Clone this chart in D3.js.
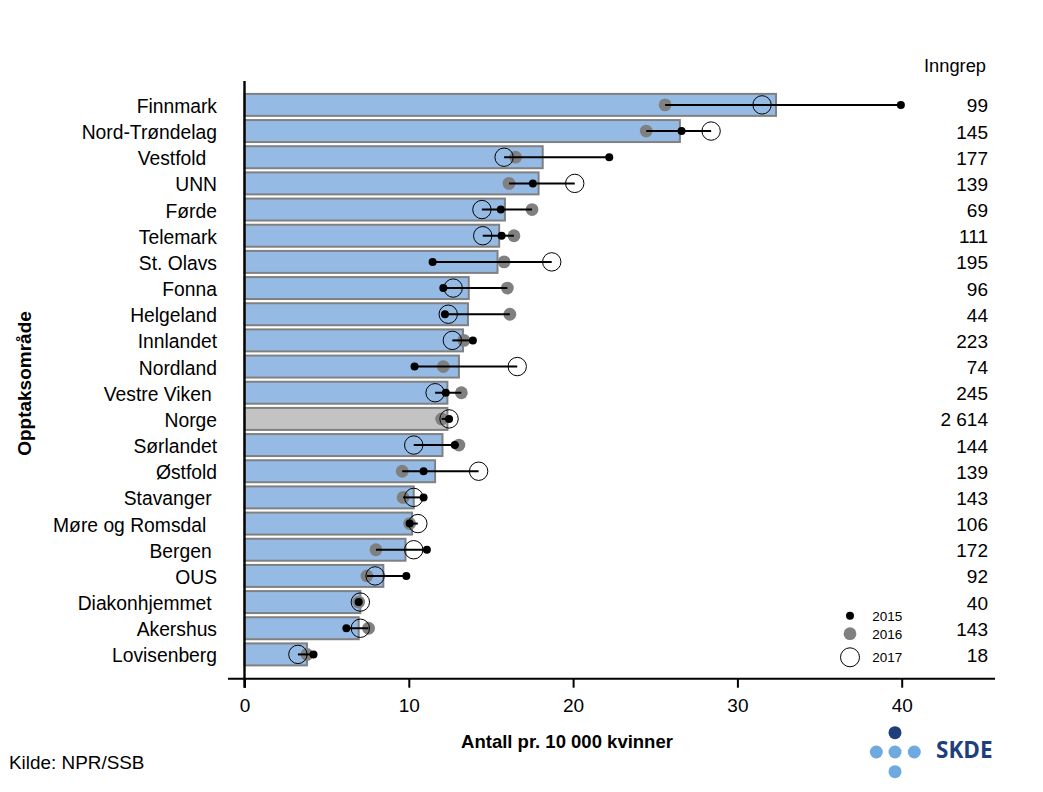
<!DOCTYPE html>
<html>
<head>
<meta charset="utf-8">
<script src="https://d3js.org/d3.v7.min.js"></script>
<style>
  body { margin: 0; background: #fff; }
  text { font-family: "Liberation Sans", Arial, sans-serif; fill: #000; white-space: pre; }
</style>
</head>
<body>
<div id="chart"></div>
<script>
// trailing spaces are in the original labels
var areas = ["Finnmark", "Nord-Trøndelag", "Vestfold  ", "UNN", "Førde", "Telemark", "St. Olavs", "Fonna", "Helgeland", "Innlandet", "Nordland", "Vestre Viken ", "Norge", "Sørlandet", "Østfold", "Stavanger ", "Møre og Romsdal  ", "Bergen ", "OUS", "Diakonhjemmet ", "Akershus", "Lovisenberg"];
var rateMean = [32.35, 26.5, 18.15, 17.9, 15.85, 15.5, 15.4, 13.65, 13.6, 13.3, 13.05, 12.35, 12.35, 12.05, 11.6, 10.3, 10.2, 9.8, 8.45, 7.05, 6.95, 3.8];
var rate2015 = [39.95, 26.6, 22.2, 17.55, 15.6, 15.65, 11.45, 12.1, 12.2, 13.9, 10.35, 12.25, 12.45, 12.8, 10.9, 10.9, 10.05, 11.1, 9.85, 6.95, 6.2, 4.2];
var rate2016 = [25.6, 24.45, 16.5, 16.1, 17.5, 16.4, 15.8, 16, 16.15, 13.35, 12.1, 13.2, 12, 13.05, 9.6, 9.65, 10.05, 8, 7.45, 6.95, 7.55, 3.8];
var rate2017 = [31.5, 28.4, 15.8, 20.1, 14.45, 14.5, 18.7, 12.7, 12.4, 12.65, 16.6, 11.6, 12.45, 10.3, 14.25, 10.3, 10.55, 10.3, 7.95, 7.05, 7.05, 3.25];
var inngrep = ["99", "145", "177", "139", "69", "111", "195", "96", "44", "223", "74", "245", "2 614", "144", "139", "143", "106", "172", "92", "40", "143", "18"];
var xTicks = [0, 10, 20, 30, 40];
var legendYears = ["2015", "2016", "2017"];

var width = 1043, height = 792;
var barBlue = "#95bbe5", barGrey = "#c3c3c3", barEdge = "#808080", dotGrey = "#808080";

var svg = d3.select("#chart").append("svg")
  .attr("width", width)
  .attr("height", height)
  .style("display", "block");

var x = d3.scaleLinear().domain([0, 40]).range([244.5, 901.7]);
var y = d3.scaleBand().domain(d3.range(areas.length)).range([91.8, 667.5]).paddingInner(0.16).paddingOuter(0.08);
var cy = function(i) { return y(i) + y.bandwidth() / 2; };

// bars
svg.append("g").selectAll("rect")
  .data(rateMean)
  .enter()
  .append("rect")
  .attr("x", x(0))
  .attr("y", function(d, i) { return y(i); })
  .attr("width", function(d) { return x(d) - x(0); })
  .attr("height", y.bandwidth())
  .attr("fill", function(d, i) { return areas[i] == "Norge" ? barGrey : barBlue; })
  .attr("stroke", barEdge)
  .attr("stroke-width", 2);

// 2016, 2017, range line, 2015
function dots(values, r, fill, stroke) {
  svg.append("g").selectAll("circle")
    .data(values)
    .enter()
    .append("circle")
    .attr("cx", function(d) { return x(d); })
    .attr("cy", function(d, i) { return cy(i); })
    .attr("r", r)
    .attr("fill", fill)
    .attr("stroke", stroke);
}
dots(rate2016, 6.4, dotGrey, "none");
dots(rate2017, 9.2, "none", "#000");

svg.append("g").selectAll("line")
  .data(areas)
  .enter()
  .append("line")
  .attr("x1", function(d, i) { return x(Math.min(rate2015[i], rate2016[i], rate2017[i])); })
  .attr("x2", function(d, i) { return x(Math.max(rate2015[i], rate2016[i], rate2017[i])); })
  .attr("y1", function(d, i) { return cy(i); })
  .attr("y2", function(d, i) { return cy(i); })
  .attr("stroke", "#000")
  .attr("stroke-width", 2);

dots(rate2015, 4, "#000", "none");

// axes
var xAxis = svg.append("g")
  .attr("transform", "translate(0,678.7)")
  .call(d3.axisBottom(x).tickValues(xTicks).tickSize(9).tickPadding(11).tickSizeOuter(0));
xAxis.select(".domain").remove();
xAxis.selectAll("line").attr("stroke", "#000").attr("stroke-width", 2);
xAxis.selectAll("text").attr("font-size", 19);

svg.append("line")
  .attr("x1", 228).attr("x2", 995).attr("y1", 678.7).attr("y2", 678.7)
  .attr("stroke", "#000").attr("stroke-width", 2);
svg.append("line")
  .attr("x1", x(0)).attr("x2", x(0)).attr("y1", 81).attr("y2", 687.7)
  .attr("stroke", "#000").attr("stroke-width", 2.4);

// row labels and counts
svg.append("g").selectAll("text")
  .data(areas)
  .enter()
  .append("text")
  .attr("x", 217)
  .attr("y", function(d, i) { return cy(i) + 8; })
  .attr("text-anchor", "end")
  .attr("font-size", 19.3)
  .text(function(d) { return d; });

svg.append("g").selectAll("text")
  .data(inngrep)
  .enter()
  .append("text")
  .attr("x", 988)
  .attr("y", function(d, i) { return cy(i) + 7.5; })
  .attr("text-anchor", "end")
  .attr("font-size", 19)
  .text(function(d) { return d; });

svg.append("text")
  .attr("x", 986).attr("y", 71.5)
  .attr("text-anchor", "end")
  .attr("font-size", 18.3)
  .text("Inngrep");

svg.append("text")
  .attr("x", 567).attr("y", 747.5)
  .attr("text-anchor", "middle")
  .attr("font-size", 18.5)
  .attr("font-weight", "bold")
  .text("Antall pr. 10 000 kvinner");

svg.append("text")
  .attr("transform", "translate(30.5,383.5) rotate(-90)")
  .attr("text-anchor", "middle")
  .attr("font-size", 19)
  .attr("font-weight", "bold")
  .text("Opptaksområde");

svg.append("text")
  .attr("x", 9).attr("y", 769)
  .attr("font-size", 18.9)
  .text("Kilde: NPR/SSB");

// legend
var legendY = [615.7, 633.7, 657.3];
var legendR = [4, 6.4, 9.5];
var legendFill = ["#000", dotGrey, "none"];
var legendStroke = ["none", "none", "#000"];
var legend = svg.append("g");
legend.selectAll("circle")
  .data(legendYears)
  .enter()
  .append("circle")
  .attr("cx", 850)
  .attr("cy", function(d, i) { return legendY[i]; })
  .attr("r", function(d, i) { return legendR[i]; })
  .attr("fill", function(d, i) { return legendFill[i]; })
  .attr("stroke", function(d, i) { return legendStroke[i]; });
legend.selectAll("text")
  .data(legendYears)
  .enter()
  .append("text")
  .attr("x", 872.3)
  .attr("y", function(d, i) { return legendY[i] + 5; })
  .attr("font-size", 13.5)
  .text(function(d) { return d; });

// SKDE logo
var logo = svg.append("g");
logo.append("circle").attr("cx", 895).attr("cy", 732.7).attr("r", 6.5).attr("fill", "#1f3f7c");
logo.selectAll(".logoDot")
  .data([[876.3, 752], [895, 752], [914.3, 752], [895, 771.7]])
  .enter()
  .append("circle")
  .attr("class", "logoDot")
  .attr("cx", function(d) { return d[0]; })
  .attr("cy", function(d) { return d[1]; })
  .attr("r", 6.5)
  .attr("fill", "#6ea9e0");
logo.append("text")
  .attr("x", 936).attr("y", 758)
  .style("font-family", "'Open Sans', sans-serif")
  .style("fill", "#1f3f7c")
  .attr("font-size", 22.5)
  .attr("font-weight", "bold")
  .text("SKDE");
</script>
</body>
</html>
